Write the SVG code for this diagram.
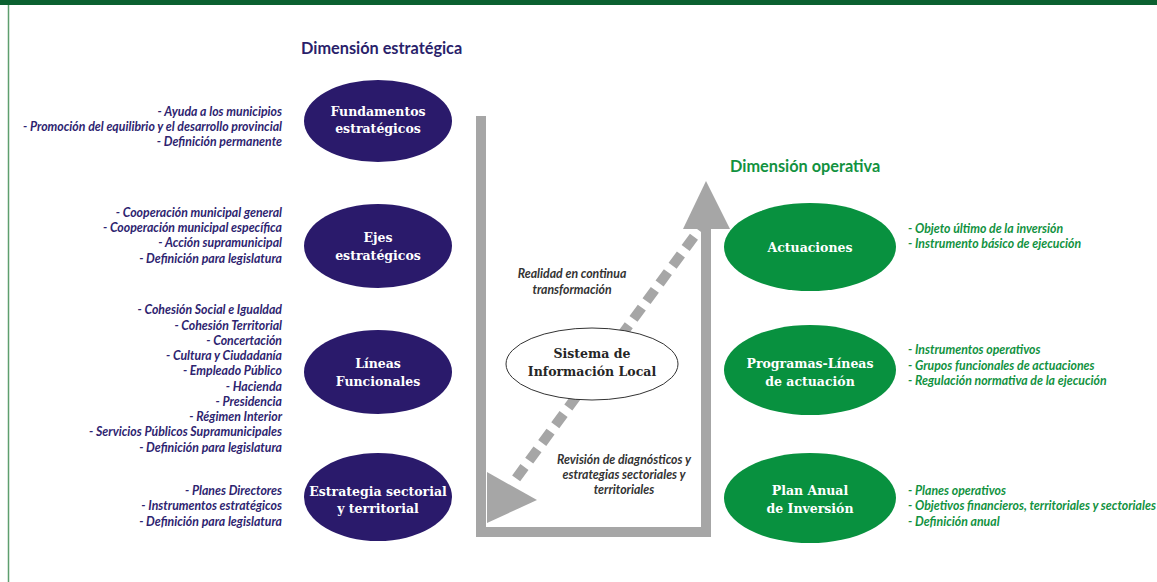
<svg xmlns="http://www.w3.org/2000/svg" width="1157" height="582" viewBox="0 0 1157 582">
<defs>
<style>
.navy{fill:#2a1a6b}
.grn{fill:#08913f}
.lbl{font-family:"DejaVu Serif",serif;font-weight:bold;font-size:12.5px;fill:#ffffff;text-anchor:middle}
.ltxt{font-family:Lato,"Open Sans",sans-serif;font-weight:bold;font-style:italic;font-size:12.3px;fill:#2e2470;text-anchor:end}
.rtxt{font-family:Lato,"Open Sans",sans-serif;font-weight:bold;font-style:italic;font-size:12.3px;fill:#12923f}
.ctxt{font-family:Lato,"Open Sans",sans-serif;font-weight:bold;font-style:italic;font-size:12.3px;fill:#333333;text-anchor:middle}
.hdr{font-family:Lato,"Open Sans",sans-serif;font-weight:bold;font-size:16.3px}
.bar{fill:#a6a6a6}
</style>
</defs>
<rect x="0" y="0" width="1157" height="582" fill="#ffffff"/>
<rect x="0" y="0" width="1157" height="5" fill="#0b6130"/>
<line x1="8.5" y1="5" x2="8.5" y2="582" stroke="#5e9e6e" stroke-width="1.5"/>

<text class="hdr" x="301" y="54" fill="#2a1f6b">Dimensión estratégica</text>
<text class="hdr" x="730" y="172" fill="#12923f">Dimensión operativa</text>

<g id="connectors">
  <line x1="707" y1="219" x2="512" y2="484" stroke="#a6a6a6" stroke-width="10" stroke-dasharray="14 8"/>
  <polygon class="bar" points="487,472 537,500 487,523"/>
  <rect class="bar" x="476" y="116" width="10" height="421"/>
  <rect class="bar" x="476" y="527" width="235" height="10"/>
  <rect class="bar" x="701" y="227" width="10" height="310"/>
  <polygon class="bar" points="706,181 730,229 683,229"/>
</g>

<g id="sil">
  <ellipse cx="592" cy="364" rx="86" ry="36" fill="#ffffff" stroke="#333333" stroke-width="1"/>
  <text class="lbl" x="592" y="358" style="fill:#262626">Sistema de</text>
  <text class="lbl" x="592" y="376" style="fill:#262626">Información Local</text>
</g>

<g id="realidad">
  <text class="ctxt" x="572" y="278">Realidad en continua</text>
  <text class="ctxt" x="572" y="294">transformación</text>
</g>
<g id="revision">
  <text class="ctxt" x="624" y="464">Revisión de diagnósticos y</text>
  <text class="ctxt" x="624" y="479">estrategias sectoriales y</text>
  <text class="ctxt" x="624" y="494">territoriales</text>
</g>

<g id="fundamentos">
  <ellipse class="navy" cx="378" cy="121" rx="74" ry="41"/>
  <text class="lbl" x="378" y="116">Fundamentos</text>
  <text class="lbl" x="378" y="133">estratégicos</text>
  <text class="ltxt" x="282" y="116">- Ayuda a los municipios</text>
  <text class="ltxt" x="282" y="131">- Promoción del equilibrio y el desarrollo provincial</text>
  <text class="ltxt" x="282" y="146">- Definición permanente</text>
</g>

<g id="ejes">
  <ellipse class="navy" cx="378" cy="246" rx="74" ry="42"/>
  <text class="lbl" x="378" y="242">Ejes</text>
  <text class="lbl" x="378" y="260">estratégicos</text>
  <text class="ltxt" x="282" y="217">- Cooperación municipal general</text>
  <text class="ltxt" x="282" y="232">- Cooperación municipal específica</text>
  <text class="ltxt" x="282" y="247">- Acción supramunicipal</text>
  <text class="ltxt" x="282" y="263">- Definición para legislatura</text>
</g>

<g id="lineas">
  <ellipse class="navy" cx="378" cy="372" rx="74" ry="42"/>
  <text class="lbl" x="378" y="368">Líneas</text>
  <text class="lbl" x="378" y="386">Funcionales</text>
  <text class="ltxt" x="282" y="314">-  Cohesión Social e Igualdad</text>
  <text class="ltxt" x="282" y="330">-  Cohesión Territorial</text>
  <text class="ltxt" x="282" y="345">- Concertación</text>
  <text class="ltxt" x="282" y="360">- Cultura y Ciudadanía</text>
  <text class="ltxt" x="282" y="375">- Empleado Público</text>
  <text class="ltxt" x="282" y="391">- Hacienda</text>
  <text class="ltxt" x="282" y="406">- Presidencia</text>
  <text class="ltxt" x="282" y="421">- Régimen Interior</text>
  <text class="ltxt" x="282" y="436">- Servicios Públicos Supramunicipales</text>
  <text class="ltxt" x="282" y="452">- Definición para legislatura</text>
</g>

<g id="estrategia">
  <ellipse class="navy" cx="378" cy="497" rx="74" ry="44"/>
  <text class="lbl" x="378" y="496">Estrategia sectorial</text>
  <text class="lbl" x="378" y="513">y territorial</text>
  <text class="ltxt" x="282" y="495">- Planes Directores</text>
  <text class="ltxt" x="282" y="510">- Instrumentos estratégicos</text>
  <text class="ltxt" x="282" y="526">- Definición para legislatura</text>
</g>

<g id="actuaciones">
  <ellipse class="grn" cx="810" cy="247" rx="86" ry="44"/>
  <text class="lbl" x="810" y="252">Actuaciones</text>
  <text class="rtxt" x="908" y="233">- Objeto último de la inversión</text>
  <text class="rtxt" x="908" y="248">- Instrumento básico de ejecución</text>
</g>

<g id="programas">
  <ellipse class="grn" cx="810" cy="370" rx="86" ry="45"/>
  <text class="lbl" x="810" y="368">Programas-Líneas</text>
  <text class="lbl" x="810" y="386">de actuación</text>
  <text class="rtxt" x="908" y="354">- Instrumentos operativos</text>
  <text class="rtxt" x="908" y="370">- Grupos funcionales de actuaciones</text>
  <text class="rtxt" x="908" y="385">- Regulación normativa de la ejecución</text>
</g>

<g id="plan">
  <ellipse class="grn" cx="810" cy="498" rx="86" ry="45"/>
  <text class="lbl" x="810" y="495">Plan Anual</text>
  <text class="lbl" x="810" y="513">de Inversión</text>
  <text class="rtxt" x="908" y="495">- Planes operativos</text>
  <text class="rtxt" x="908" y="510">- Objetivos financieros, territoriales y sectoriales</text>
  <text class="rtxt" x="908" y="526">- Definición anual</text>
</g>
</svg>
